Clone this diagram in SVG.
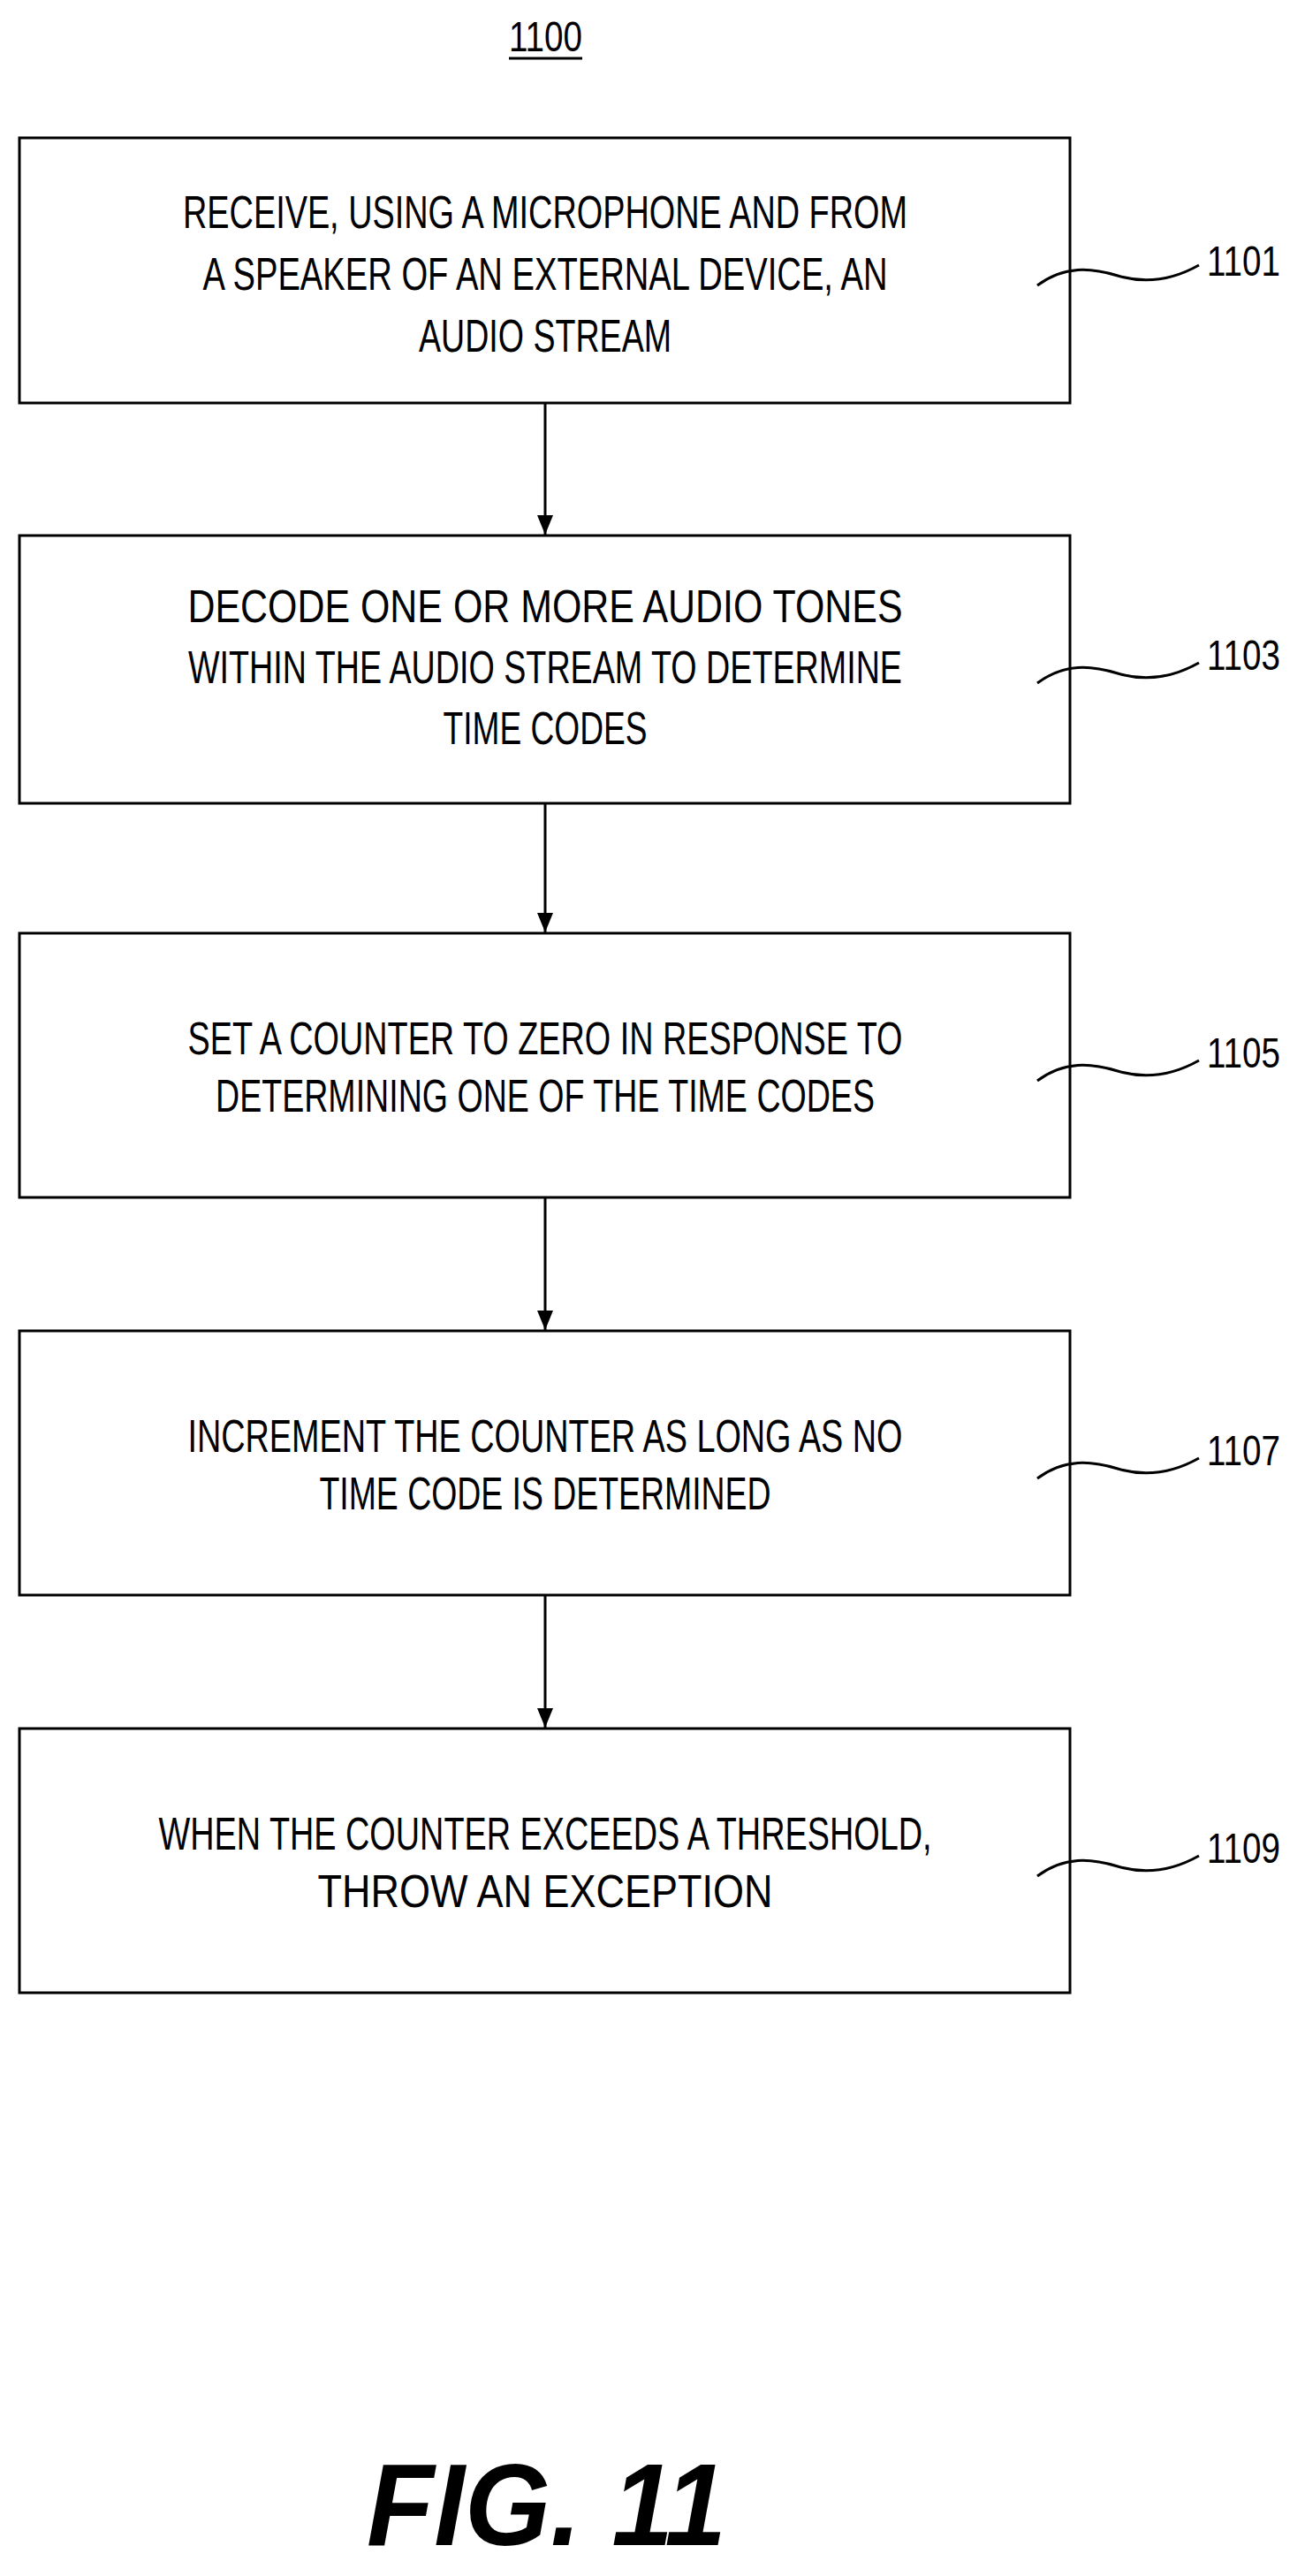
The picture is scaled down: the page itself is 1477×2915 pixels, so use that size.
<svg xmlns="http://www.w3.org/2000/svg" width="1477" height="2915" viewBox="0 0 1477 2915">
<style>
.box{fill:none;stroke:#000;stroke-width:3}
.t{font-family:"Liberation Sans Narrow","Liberation Sans",Arial,sans-serif;font-size:51px;text-anchor:middle;fill:#000}
.lbl{font-family:"Liberation Sans Narrow","Liberation Sans",Arial,sans-serif;font-size:48px;fill:#000}
.sq{fill:none;stroke:#000;stroke-width:3}
.c{stroke:#000;stroke-width:3;fill:none}
</style>
<defs>
<marker id="a" markerWidth="24" markerHeight="24" refX="22" refY="12" orient="auto" markerUnits="userSpaceOnUse"><path d="M0,3 L22,12 L0,21 z" fill="#000"/></marker>
</defs>
<g id="title">
<text class="lbl" x="576" y="58" textLength="83" lengthAdjust="spacingAndGlyphs">1100</text>
<line x1="576" y1="66" x2="659" y2="66" stroke="#000" stroke-width="3"/>
</g>
<g id="n1101">
<rect class="box" x="22" y="156" width="1189" height="300"/>
<text class="t" x="617" y="258" textLength="820" lengthAdjust="spacingAndGlyphs">RECEIVE, USING A MICROPHONE AND FROM</text>
<text class="t" x="617" y="328" textLength="775" lengthAdjust="spacingAndGlyphs">A SPEAKER OF AN EXTERNAL DEVICE, AN</text>
<text class="t" x="617" y="398" textLength="286" lengthAdjust="spacingAndGlyphs">AUDIO STREAM</text>
<path class="sq" d="M1174,323 C1205,300 1235,303 1265,312 C1295,321 1325,318 1357,300"/>
<text class="lbl" x="1366" y="312" textLength="83" lengthAdjust="spacingAndGlyphs">1101</text>
</g>
<g id="n1103">
<rect class="box" x="22" y="606" width="1189" height="303"/>
<text class="t" x="617" y="704" textLength="809" lengthAdjust="spacingAndGlyphs">DECODE ONE OR MORE AUDIO TONES</text>
<text class="t" x="617" y="773" textLength="808" lengthAdjust="spacingAndGlyphs">WITHIN THE AUDIO STREAM TO DETERMINE</text>
<text class="t" x="617" y="842" textLength="231" lengthAdjust="spacingAndGlyphs">TIME CODES</text>
<path class="sq" d="M1174,773 C1205,750 1235,753 1265,762 C1295,771 1325,768 1357,750"/>
<text class="lbl" x="1366" y="758" textLength="83" lengthAdjust="spacingAndGlyphs">1103</text>
</g>
<g id="n1105">
<rect class="box" x="22" y="1056" width="1189" height="299"/>
<text class="t" x="617" y="1193" textLength="809" lengthAdjust="spacingAndGlyphs">SET A COUNTER TO ZERO IN RESPONSE TO</text>
<text class="t" x="617" y="1258" textLength="746" lengthAdjust="spacingAndGlyphs">DETERMINING ONE OF THE TIME CODES</text>
<path class="sq" d="M1174,1223 C1205,1200 1235,1203 1265,1212 C1295,1221 1325,1218 1357,1200"/>
<text class="lbl" x="1366" y="1208" textLength="83" lengthAdjust="spacingAndGlyphs">1105</text>
</g>
<g id="n1107">
<rect class="box" x="22" y="1506" width="1189" height="299"/>
<text class="t" x="617" y="1643" textLength="809" lengthAdjust="spacingAndGlyphs">INCREMENT THE COUNTER AS LONG AS NO</text>
<text class="t" x="617" y="1708" textLength="511" lengthAdjust="spacingAndGlyphs">TIME CODE IS DETERMINED</text>
<path class="sq" d="M1174,1673 C1205,1650 1235,1653 1265,1662 C1295,1671 1325,1668 1357,1650"/>
<text class="lbl" x="1366" y="1658" textLength="83" lengthAdjust="spacingAndGlyphs">1107</text>
</g>
<g id="n1109">
<rect class="box" x="22" y="1956" width="1189" height="299"/>
<text class="t" x="617" y="2093" textLength="875" lengthAdjust="spacingAndGlyphs">WHEN THE COUNTER EXCEEDS A THRESHOLD,</text>
<text class="t" x="617" y="2158" textLength="515" lengthAdjust="spacingAndGlyphs">THROW AN EXCEPTION</text>
<path class="sq" d="M1174,2123 C1205,2100 1235,2103 1265,2112 C1295,2121 1325,2118 1357,2100"/>
<text class="lbl" x="1366" y="2108" textLength="83" lengthAdjust="spacingAndGlyphs">1109</text>
</g>
<g id="connectors">
<line class="c" x1="617" y1="456" x2="617" y2="605" marker-end="url(#a)"/>
<line class="c" x1="617" y1="909" x2="617" y2="1055" marker-end="url(#a)"/>
<line class="c" x1="617" y1="1355" x2="617" y2="1505" marker-end="url(#a)"/>
<line class="c" x1="617" y1="1805" x2="617" y2="1955" marker-end="url(#a)"/>
</g>
<g id="caption">
<text x="415" y="2880" font-family="'Liberation Sans',Arial,sans-serif" font-size="132" font-weight="bold" font-style="italic" textLength="407" lengthAdjust="spacingAndGlyphs">FIG. 11</text>
</g>
</svg>
